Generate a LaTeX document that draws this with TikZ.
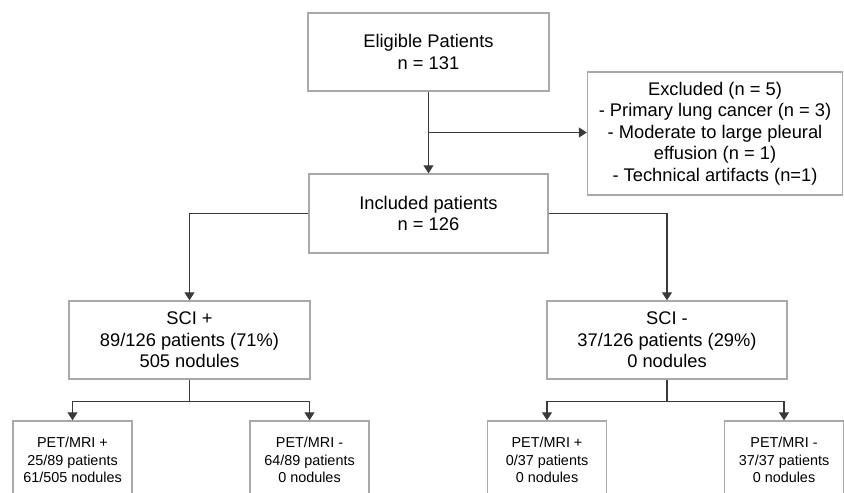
\documentclass[tikz,border=0pt]{standalone}
\usepackage{fontspec}
\setmainfont{Liberation Sans}
\usepackage{xcolor}
\usetikzlibrary{positioning,arrows.meta,calc}

\definecolor{boxgray}{HTML}{A8A8A8}
\definecolor{linegray}{HTML}{3A3A3A}

\begin{document}
\begin{tikzpicture}[
          x=1pt, y=-1pt,
          box/.style={draw=boxgray, line width=1.4pt, minimum width=241pt, minimum height=78pt, inner sep=0pt, align=center, font=\fontsize{18.3}{21.6}\selectfont},
          small/.style={draw=boxgray, line width=1.4pt, minimum width=119pt, minimum height=78pt, inner sep=0pt, align=center, font=\fontsize{14.4}{17.5}\selectfont},
          ln/.style={draw=linegray, line width=1.3pt},
          arr/.style={ln, -{Triangle[length=8pt, width=10pt]}}
      ]
        \clip (0,0) rectangle (844,493);
        \node[box] (elig) at (428.5,52) {Eligible Patients\\n = 131};
        \node[box, minimum width=255pt, minimum height=123pt] (excl) at (715,133.5) {Excluded (n = 5)\\- Primary lung cancer (n = 3)\\- Moderate to large pleural\\effusion (n = 1)\\- Technical artifacts (n=1)};
        \node[box, minimum width=239pt, minimum height=79pt] (incl) at (428.5,213.5) {Included patients\\n = 126};
        \node[box] (scipos) at (189.5,340) {SCI +\\89/126 patients (71\%)\\505 nodules};
        \node[box, minimum width=240pt] (scineg) at (667,340) {SCI -\\37/126 patients (29\%)\\0 nodules};
        \node[small] (petA) at (72.5,460) {PET/MRI +\\25/89 patients\\61/505 nodules};
        \node[small] (petB) at (309.5,460) {PET/MRI -\\64/89 patients\\0 nodules};
        \node[small] (petC) at (547,460) {PET/MRI +\\0/37 patients\\0 nodules};
        \node[small] (petD) at (784,460) {PET/MRI -\\37/37 patients\\0 nodules};
        % junction points
        \coordinate (split) at ($(elig.south)!0.5!(incl.north)$);
        \coordinate (forkL) at ($(scipos.south)+(0,22)$);
        \coordinate (forkR) at ($(scineg.south)+(0,22)$);
        \draw[arr] (elig) -- (incl);
        \draw[arr] (split) -- (split -| excl.west);
        \draw[arr] (incl.west) -| (scipos.north);
        \draw[arr] (incl.east) -| (scineg.north);
        \draw[ln] (scipos.south) -- (forkL);
        \draw[arr] (forkL) -| (petA.north);
        \draw[arr] (forkL) -| (petB.north);
        \draw[ln] (scineg.south) -- (forkR);
        \draw[arr] (forkR) -| (petC.north);
        \draw[arr] (forkR) -| (petD.north);
      \end{tikzpicture}
\end{document}
